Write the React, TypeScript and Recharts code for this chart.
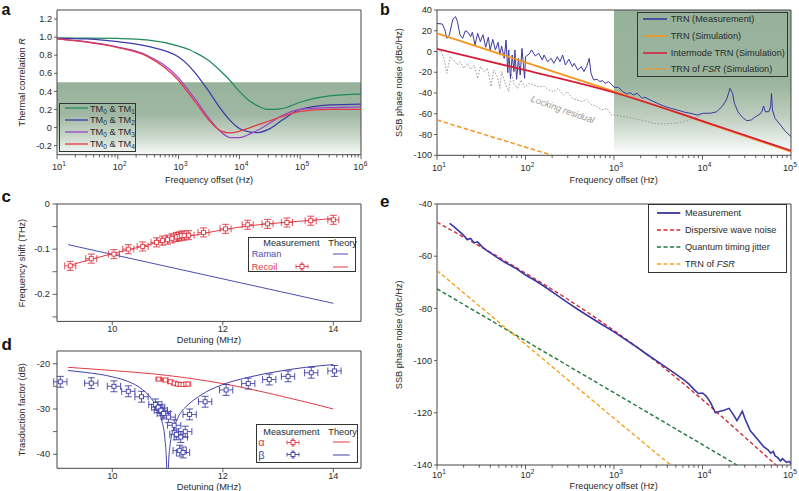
import React from 'react';
import { ComposedChart, Line, Scatter, ErrorBar, XAxis, YAxis, ReferenceArea, Legend } from 'recharts';

const FONT = '"Liberation Sans", Arial, Helvetica, sans-serif';
const FS = 9.2;
const AX = '#3a3a3a';
const TX = '#2a2a2a';

// ---------------- Panel a : thermal correlation ----------------
const aFreq = [10, 30, 100, 300, 1000, 1500, 2000, 3000, 5000, 7000, 10000, 15000, 20000, 30000, 50000, 100000, 300000, 1000000];
const aTM1 = [0.99, 0.99, 0.985, 0.97, 0.9, 0.86, 0.82, 0.75, 0.62, 0.52, 0.4, 0.29, 0.24, 0.2, 0.21, 0.28, 0.35, 0.37];
const aTM2 = [0.99, 0.98, 0.95, 0.9, 0.78, 0.68, 0.58, 0.42, 0.2, 0.08, -0.01, -0.05, -0.055, -0.02, 0.08, 0.2, 0.25, 0.26];
const aTM3 = [0.98, 0.95, 0.89, 0.8, 0.55, 0.4, 0.29, 0.12, -0.05, -0.11, -0.11, -0.07, -0.03, 0.04, 0.13, 0.2, 0.22, 0.23];
const aTM4 = [0.98, 0.945, 0.885, 0.79, 0.52, 0.37, 0.26, 0.1, -0.04, -0.06, -0.04, 0.0, 0.03, 0.07, 0.12, 0.18, 0.2, 0.2];
const aModes = ['1', '2', '3', '4'];
const aColors = ['#1f8a5b', '#3b3aa8', '#9a45c8', '#e23a48'];
const aXMajors = [10, 100, 1000, 10000, 100000, 1000000];
const aXExps = ['1', '2', '3', '4', '5', '6'];
const aYTicks = [-0.2, 0, 0.2, 0.4, 0.6, 0.8, 1.0, 1.2];
const aYLabels = ['-0.2', '0', '0.2', '0.4', '0.6', '0.8', '1.0', '1.2'];

// ---------------- Panel b : TRN ----------------
const bMeas = [
  [10, 27], [11.5, 26.5], [12.3, 20.7], [12.9, 12.7], [13.8, 16], [15.1, 31], [16.2, 33.6], [17, 28.8], [18.2, 16], [19.5, 12.7],
  [20.9, 20], [22.4, 18.5], [24, 14.3], [25.1, 18.5], [26.9, 6.3], [28.8, 17.5], [30.9, 9.5], [33.1, 16.2], [35.5, 4], [38, 13.7],
  [39.8, 1.5], [42.7, 11.7], [45.7, 1.5], [49, 8.8], [51.3, -3.4], [53.7, 5.3], [57.5, -6.6], [60.3, 11], [63.1, -20.4], [64.6, 1.5],
  [67.6, -25.8], [70.8, -3.4], [74.1, -19.4], [75.9, 1.5], [79.4, -26.8], [83.2, -6.6], [87.1, -22.6], [91.2, 3], [97.7, -25.8], [100, -5],
  [110, -2.4], [117, 1.5], [129, -4.3], [141, -1.7], [155, -8.2], [162, -3.4], [178, -9.8], [195, -6.6], [209, -11.4], [229, -5],
  [245, -9.8], [263, -3.4], [282, -13], [309, -7.5], [339, -14.6], [355, -11.4], [389, -17.8], [427, -14.6], [457, -19.4], [490, -14.6],
  [525, -6.6], [550, -21], [589, -27.4], [646, -26.8], [692, -29], [741, -28], [794, -30.6], [871, -29], [955, -32.3], [1000, -34.5],
  [1122, -34.5], [1259, -38.7], [1413, -41], [1514, -39.6], [1660, -41.9], [1820, -40.3], [2089, -45.1], [2239, -44.1], [2570, -46.7], [3090, -49.9],
  [3631, -52.5], [4365, -54.7], [5129, -56.3], [6166, -58.3], [7244, -59.5], [8710, -61.2], [10230, -59.5], [12300, -59.5], [14450, -58], [16600, -53.1],
  [18620, -46.7], [19950, -38.7], [20420, -35.5], [21880, -40.3], [22910, -49.9], [25120, -58], [28180, -63.4], [31620, -66.6], [35480, -66], [39810, -62.8],
  [44670, -60.2], [46770, -58], [48980, -52.5], [51290, -58], [56230, -58], [58880, -53.1], [60260, -40.3], [61660, -56.3], [66070, -64.4], [75860, -70.8],
  [87100, -77.2], [100000, -82],
];
const bResidual = [
  [10, -2], [11, 1.5], [12, -6.6], [12.9, -21], [14.1, -5], [15.5, -8.2], [17, -13], [18.2, -9.8], [20, -16.2], [21.9, -11.4],
  [24, -17.2], [26.3, -13], [28.8, -25.8], [30.9, -14.6], [33.9, -19.4], [37.2, -16.2], [40.7, -33.9], [43.7, -17.8], [47.9, -24.2], [51.3, -35.5],
  [53.7, -19.4], [58.9, -30.6], [64.6, -38.7], [69.2, -21], [74.1, -30.6], [81.3, -35.5], [89.1, -27.4], [97.7, -34.5], [110, -30.6], [123, -32.3],
  [141, -33.9], [162, -33.2], [182, -37.1], [209, -38.7], [234, -35.5], [269, -41.9], [295, -38.7], [339, -45.1], [380, -46.7], [437, -48.3],
  [490, -46.1], [562, -51.5], [646, -53.1], [724, -56.3], [832, -54.7], [933, -61.2], [1000, -61.2], [1288, -62.8], [1660, -64.4], [2188, -66.6],
  [2818, -69.2], [3631, -69.8], [4677, -69.2], [6166, -67.6], [7943, -64.4], [9772, -61.2],
];
const bTrnSim = [[10, 17.5], [100, -10.5], [1000, -38.5], [10000, -67.5], [100000, -96.5]];
const bInterSim = [[10, 2.5], [100, -18], [1000, -39.5], [10000, -67], [100000, -95.5]];
const bFsr = [[10, -66], [200, -100]];
const bXMajors = [10, 100, 1000, 10000, 100000];
const bXExps = ['1', '2', '3', '4', '5'];
const bYTicks = [-100, -80, -60, -40, -20, 0, 20, 40];
const bYLabels = ['-100', '-80', '-60', '-40', '-20', '0', '20', '40'];

// ---------------- Panel c : frequency shift ----------------
const cRecoilMeas = [
  [9.24, -0.137], [9.62, -0.121], [10.03, -0.111], [10.29, -0.1], [10.55, -0.094], [10.8, -0.085], [10.91, -0.081], [11.0, -0.079],
  [11.08, -0.076], [11.16, -0.073], [11.21, -0.072], [11.25, -0.07], [11.3, -0.07], [11.38, -0.069], [11.65, -0.063], [12.05, -0.055],
  [12.45, -0.046], [12.81, -0.044], [13.16, -0.041], [13.59, -0.037], [14.0, -0.035],
];
const cRecoilErrX = 0.1;
const cRecoilErrY = 0.01;
const cRecoilTheory = [[9.2, -0.137], [9.6, -0.123], [10, -0.11], [10.5, -0.095], [11, -0.08], [11.5, -0.069], [12, -0.057], [12.5, -0.048], [13, -0.042], [13.5, -0.037], [14, -0.032]];
const cRamanTheory = [[9.2, -0.09], [14, -0.22]];
const cYTicks = [-0.25, -0.2, -0.15, -0.1, -0.05, 0];
const cYLabels = ['', '-0.2', '', '-0.1', '', '0'];
const cdXTicks = [10, 12, 14];
const cdXLabels = ['10', '12', '14'];

// ---------------- Panel d : transduction factor ----------------
const dBetaMeas = [
  [9.06, -24.0], [9.62, -24.3], [10.03, -25.0], [10.29, -26.1], [10.53, -27.3], [10.78, -29.0], [10.83, -29.6], [10.88, -30.3],
  [10.93, -31.0], [11.02, -31.8], [11.12, -33.6], [11.16, -35.6], [11.24, -36.2], [11.22, -39.2], [11.28, -39.6], [11.32, -35.0],
  [11.4, -31.2], [11.68, -28.4], [12.06, -25.8], [12.46, -24.4], [12.84, -23.5], [13.18, -22.8], [13.6, -22.0], [14.02, -21.6],
];
const dBetaErrX = 0.12;
const dBetaErrY = 1.2;
const dAlphaMeas = [[10.84, -23.4], [10.96, -23.6], [11.05, -24.0], [11.12, -24.3], [11.18, -24.5], [11.23, -24.6], [11.28, -24.6], [11.33, -24.5], [11.37, -24.5]];
const dAlphaErrX = 0.05;
const dAlphaErrY = 0.35;
const dAlphaTheory = [[9.2, -20.8], [10, -21.5], [11, -22.6], [12, -24.4], [13, -27.0], [14, -30.0]];
const dBetaTheory = [
  [9.2, -21.5], [9.5, -21.9], [10, -22.9], [10.3, -24.0], [10.5, -25.3], [10.7, -27.6], [10.8, -29.5], [10.9, -32.8], [10.95, -36.3],
  [10.985, -43], [11.0, -60], [11.015, -43], [11.05, -37.6], [11.12, -34], [11.2, -31.6], [11.35, -29.3], [11.5, -27.8], [11.75, -25.9],
  [12, -24.6], [12.5, -22.9], [13, -21.7], [13.5, -20.8], [14, -20.2],
];
const dYTicks = [-40, -35, -30, -25, -20];
const dYLabels = ['-40', '', '-30', '', '-20'];

// ---------------- Panel e : phase noise ----------------
const eMeas = [
  [13.9, -47.4], [15.5, -48.7], [17.6, -50.3], [20, -52], [21.9, -53.6], [24, -53.2], [26.3, -54.9], [28.8, -54.5], [32.4, -56.4], [36.7, -57.9],
  [43.7, -59.6], [52, -61.3], [61.7, -62.8], [76.7, -64.5], [100, -67.2], [130, -69.4], [170, -72.0], [220, -74.6], [300, -77.8], [400, -80.6],
  [550, -83.6], [700, -85.8], [1000, -89.0], [1300, -91.6], [1700, -94.2], [2200, -96.9], [3000, -100.0], [4000, -102.9], [5000, -105.2], [6000, -107.1],
  [7000, -108.9], [8000, -111.0], [9000, -112.6], [10000, -112.4], [11000, -113.6], [12300, -116.0], [14000, -120.0], [15800, -119.4], [17500, -119.0], [20000, -118.3],
  [22400, -120.8], [24500, -123.0], [26500, -121.0], [28200, -119.4], [30200, -122.3], [34700, -126.9], [41700, -130.0], [49000, -133.0], [55000, -134.2], [58900, -135.5],
  [63000, -134.8], [66100, -136.5], [71000, -137.2], [75900, -138.5], [80000, -137.6], [89100, -139.0], [95000, -138.6], [100000, -139.5],
];
const eDispersive = [[10, -47], [31.6, -56.5], [100, -66.5], [316, -77], [1000, -88.5], [3162, -101], [10000, -115], [31623, -130], [70800, -140.6]];
const eQuantum = [[10, -72.5], [100, -92.4], [1000, -112.3], [10000, -132.2], [24500, -140]];
const eTrnFsr = [[10, -65.5], [100, -93.8], [1000, -122.1], [4365, -140]];
const eXMajors = [10, 100, 1000, 10000, 100000];
const eXExps = ['1', '2', '3', '4', '5'];
const eYTicks = [-140, -120, -100, -80, -60, -40];
const eYLabels = ['-140', '-120', '-100', '-80', '-60', '-40'];

// ---------------- helpers ----------------
const toXY = (pairs: number[][]) => pairs.map(([x, y]) => ({ x, y }));
const toErr = (pairs: number[][], ex: number, ey: number) => pairs.map(([x, y]) => ({ x, y, ex, ey }));
const aData = [aTM1, aTM2, aTM3, aTM4].map((s) => aFreq.map((f, i) => ({ x: f, y: s[i] })));

const withMinors = (majors: number[]) => {
  const out: number[] = [];
  majors.forEach((d, i) => {
    out.push(d);
    if (i < majors.length - 1) for (let k = 2; k <= 9; k++) out.push(d * k);
  });
  return out;
};

const ML = 46, MT = 4, MR = 14, MB = 34;
type R = { x0: number; y0: number; x1: number; y1: number };
const RA: R = { x0: 57, y0: 10, x1: 361, y1: 154.7 };
const RB: R = { x0: 436.7, y0: 10, x1: 790.7, y1: 155.3 };
const RC: R = { x0: 57, y0: 204.3, x1: 361, y1: 321.7 };
const RD: R = { x0: 57, y0: 351, x1: 361, y1: 468.3 };
const RE: R = { x0: 436.7, y0: 204.3, x1: 790.7, y1: 465.3 };
const box = (r: R) => ({ left: r.x0 - ML, top: r.y0 - MT, width: r.x1 - r.x0 + ML + MR, height: r.y1 - r.y0 + MT + MB });
const lpos = (r: R, x: number, y: number, w: number, h: number) => ({ left: x - (r.x0 - ML), top: y - (r.y0 - MT), width: w, height: h });

const axisCommon: any = { type: 'number', tickSize: 0, tickMargin: 0, tickLine: false, axisLine: false, interval: 0, allowDataOverflow: true };

const LogTick = (p: any) => {
  const { x, y, payload, majors, exps, dy, lastShift = 0 } = p;
  const i = majors.indexOf(payload.value);
  const major = i >= 0;
  const sx = i === majors.length - 1 ? x + lastShift : x;
  return (
    <g>
      <line x1={x} x2={x} y1={y} y2={y + (major ? 4.5 : 2.8)} stroke={AX} strokeWidth={0.8} />
      {major ? (
        <g fontFamily={FONT} fill={TX}>
          <text x={sx} y={y + dy} textAnchor="middle" fontSize={FS}>10</text>
          <text x={sx + 5.3} y={y + dy - 4.3} textAnchor="start" fontSize={6.6}>{exps[i]}</text>
        </g>
      ) : null}
    </g>
  );
};

const LinXTick = (p: any) => {
  const { x, y, payload, vals, labels, dy } = p;
  const i = vals.indexOf(payload.value);
  return (
    <g>
      <line x1={x} x2={x} y1={y} y2={y + 4} stroke={AX} strokeWidth={0.8} />
      <text x={x} y={y + dy} textAnchor="middle" fontSize={FS} fontFamily={FONT} fill={TX}>{i >= 0 ? labels[i] : ''}</text>
    </g>
  );
};

const YTick = (p: any) => {
  const { x, y, payload, vals, labels, len, gap } = p;
  const i = vals.indexOf(payload.value);
  const s = i >= 0 ? labels[i] : '';
  return (
    <g>
      <line x1={x - len} x2={x} y1={y} y2={y} stroke={AX} strokeWidth={0.8} />
      {s ? (
        <text x={x - gap} y={y} dy="0.34em" textAnchor="end" fontSize={FS} fontFamily={FONT} fill={TX}>{s}</text>
      ) : null}
    </g>
  );
};

// legend building blocks
const Seg = ({ x0, x1, y, color, w = 1.5, dash }: any) => (
  <svg style={{ position: 'absolute', left: x0, top: y - 3, overflow: 'visible' }} width={x1 - x0} height={6}>
    <line x1={0} x2={x1 - x0} y1={3} y2={3} stroke={color} strokeWidth={w} strokeDasharray={dash} />
  </svg>
);
const Lbl = ({ x, y, color = TX, size = FS, children }: any) => (
  <div style={{ position: 'absolute', left: x, top: y - 7, height: 14, lineHeight: '14px', fontSize: size, color, whiteSpace: 'nowrap', fontFamily: FONT }}>
    {children}
  </div>
);
const Sub = ({ children }: any) => <span style={{ fontSize: 6.5, position: 'relative', top: 2.2 }}>{children}</span>;
const ErrSym = ({ x, y, color, hw = 6, hh = 3.5 }: any) => (
  <svg style={{ position: 'absolute', left: x - hw - 1, top: y - hh - 1, overflow: 'visible' }} width={2 * hw + 2} height={2 * hh + 2}>
    <g transform={`translate(${hw + 1},${hh + 1})`} stroke={color} strokeWidth={0.9} fill="none">
      <line x1={-hw} x2={hw} y1={0} y2={0} />
      <line x1={-hw} x2={-hw} y1={-2} y2={2} />
      <line x1={hw} x2={hw} y1={-2} y2={2} />
      <line x1={0} x2={0} y1={-hh} y2={hh} />
      <line x1={-1.5} x2={1.5} y1={-hh} y2={-hh} />
      <line x1={-1.5} x2={1.5} y1={hh} y2={hh} />
      <rect x={-2} y={-2} width={4} height={4} fill="#fff" />
    </g>
  </svg>
);
const legendBox = (w: number, h: number, children: any) => (
  <div style={{ position: 'relative', width: w, height: h, border: '1px solid #333', boxSizing: 'border-box', fontFamily: FONT }}>{children}</div>
);

const LegendA = () =>
  legendBox(76.7, 49, aModes.map((m, i) => (
    <React.Fragment key={m}>
      <Seg x0={4.7} x1={27.7} y={4.8 + i * 11.7} color={aColors[i]} w={1.3} />
      <Lbl x={29.7} y={4.8 + i * 11.7}>TM<Sub>0</Sub> &amp; TM<Sub>{m}</Sub></Lbl>
    </React.Fragment>
  )));

const LegendB = () =>
  legendBox(151, 65.6, (
    <>
      <Seg x0={4.7} x1={28.7} y={6.3} color="#3b379e" w={1.6} />
      <Lbl x={32.4} y={6.3}>TRN (Measurement)</Lbl>
      <Seg x0={4.7} x1={28.7} y={23.1} color="#f7941d" w={1.6} />
      <Lbl x={32.4} y={23.1}>TRN (Simulation)</Lbl>
      <Seg x0={4.7} x1={28.7} y={39.9} color="#d3203b" w={1.6} />
      <Lbl x={32.4} y={39.9}>Intermode TRN (Simulation)</Lbl>
      <Seg x0={4.7} x1={28.7} y={56.7} color="#f7941d" w={1.5} dash="4 2.5" />
      <Lbl x={32.4} y={56.7}>TRN of <i>FSR</i> (Simulation)</Lbl>
    </>
  ));

const LegendC = () =>
  legendBox(107.7, 35, (
    <>
      <Lbl x={14} y={5.7}>Measurement</Lbl>
      <Lbl x={79} y={5.7}>Theory</Lbl>
      <Lbl x={2.4} y={16.7} color="#4b4bb4">Raman</Lbl>
      <Seg x0={83.7} x1={98.7} y={16.7} color="#4b4bb4" w={1} />
      <Lbl x={2.4} y={29} color="#e03a45">Recoil</Lbl>
      <ErrSym x={52.4} y={29} color="#e03a45" />
      <Seg x0={83.7} x1={98.7} y={29} color="#e03a45" w={1} />
    </>
  ));

const LegendD = () =>
  legendBox(102.3, 38.7, (
    <>
      <Lbl x={6.3} y={6.4}>Measurement</Lbl>
      <Lbl x={71.3} y={6.4}>Theory</Lbl>
      <Lbl x={1.3} y={17} color="#e03a45" size={11}>α</Lbl>
      <ErrSym x={36.3} y={17} color="#e03a45" />
      <Seg x0={76.3} x1={93} y={17} color="#e03a45" w={1} />
      <Lbl x={1.3} y={29.7} color="#4040a8" size={11}>β</Lbl>
      <ErrSym x={36.3} y={29.7} color="#4040a8" />
      <Seg x0={76.3} x1={93} y={29.7} color="#4040a8" w={1} />
    </>
  ));

const LegendE = () =>
  legendBox(138.4, 69, (
    <>
      <Seg x0={7.4} x1={30.7} y={7.3} color="#3a36a3" w={1.8} />
      <Lbl x={35.7} y={7.3}>Measurement</Lbl>
      <Seg x0={7.4} x1={30.7} y={24.3} color="#d42a36" w={1.4} dash="4 2.5" />
      <Lbl x={35.7} y={24.3}>Dispersive wave noise</Lbl>
      <Seg x0={7.4} x1={30.7} y={41.3} color="#1a7a3c" w={1.4} dash="4 2.5" />
      <Lbl x={35.7} y={41.3}>Quantum timing jitter</Lbl>
      <Seg x0={7.4} x1={30.7} y={58.3} color="#f7a11c" w={1.4} dash="4 2.5" />
      <Lbl x={35.7} y={58.3}>TRN of <i>FSR</i></Lbl>
    </>
  ));

const legendProps: any = { layout: 'vertical', align: 'center', verticalAlign: 'middle' };

const sq = (color: string) => (p: any) =>
  <rect x={p.cx - 2} y={p.cy - 2} width={4} height={4} fill="#fff" stroke={color} strokeWidth={0.9} />;

const lineBase: any = { dataKey: 'y', dot: false, isAnimationActive: false, activeDot: false };

function PanelA() {
  const r = RA, b = box(r);
  return (
    <div style={{ position: 'absolute', left: b.left, top: b.top }}>
      <ComposedChart width={b.width} height={b.height} margin={{ top: MT, right: MR, bottom: 0, left: 0 }}>
        <defs>
          <linearGradient id="gA" x1="0" y1="0" x2="0" y2="1">
            <stop offset="0" stopColor="#97b29a" />
            <stop offset="0.45" stopColor="#a0b8a3" />
            <stop offset="0.8" stopColor="#d2ded3" />
            <stop offset="1" stopColor="#f8faf8" />
          </linearGradient>
        </defs>
        <XAxis dataKey="x" {...axisCommon} scale="log" domain={[10, 1e6]} ticks={withMinors(aXMajors)} height={MB}
          tick={<LogTick majors={aXMajors} exps={aXExps} dy={15.8} lastShift={-2.5} />} />
        <YAxis dataKey="y" {...axisCommon} domain={[-0.3, 1.3]} ticks={aYTicks} width={ML}
          tick={<YTick vals={aYTicks} labels={aYLabels} len={3} gap={5} />} />
        <ReferenceArea x1={10} x2={1e6} y1={-0.3} y2={0.5} fill="url(#gA)" fillOpacity={1} stroke="none" />
        {aData.map((d, i) => (
          <Line key={i} {...lineBase} data={d} type="monotone" stroke={aColors[i]} strokeWidth={1.25} />
        ))}
        <ReferenceArea x1={10} x2={1e6} y1={-0.3} y2={1.3} fill="none" stroke="#444" strokeWidth={1} />
        <Legend {...legendProps} wrapperStyle={lpos(r, 59.3, 102.7, 76.7, 49)} content={() => <LegendA />} />
      </ComposedChart>
    </div>
  );
}

function PanelB() {
  const r = RB, b = box(r);
  return (
    <div style={{ position: 'absolute', left: b.left, top: b.top }}>
      <ComposedChart width={b.width} height={b.height} margin={{ top: MT, right: MR, bottom: 0, left: 0 }}>
        <defs>
          <linearGradient id="gB" x1="0" y1="0" x2="0" y2="1">
            <stop offset="0" stopColor="#97b29a" />
            <stop offset="0.5" stopColor="#9ab49d" />
            <stop offset="0.74" stopColor="#bfcfc0" />
            <stop offset="1" stopColor="#ffffff" />
          </linearGradient>
        </defs>
        <XAxis dataKey="x" {...axisCommon} scale="log" domain={[10, 1e5]} ticks={withMinors(bXMajors)} height={MB}
          tick={<LogTick majors={bXMajors} exps={bXExps} dy={15.8} lastShift={-3} />} />
        <YAxis dataKey="y" {...axisCommon} domain={[-100, 40]} ticks={bYTicks} width={ML}
          tick={<YTick vals={bYTicks} labels={bYLabels} len={3} gap={5} />} />
        <ReferenceArea x1={1000} x2={1e5} y1={-100} y2={40} fill="url(#gB)" fillOpacity={1} stroke="none" />
        <Line {...lineBase} data={toXY(bResidual)} type="linear" stroke="#9c9c9c" strokeWidth={1} strokeDasharray="1.6 1.6" />
        <Line {...lineBase} data={toXY(bMeas)} type="linear" stroke="#3b379e" strokeWidth={1} />
        <Line {...lineBase} data={toXY(bTrnSim)} type="monotone" stroke="#f7941d" strokeWidth={1.8} />
        <Line {...lineBase} data={toXY(bInterSim)} type="monotone" stroke="#d3203b" strokeWidth={1.8} />
        <Line {...lineBase} data={toXY(bFsr)} type="linear" stroke="#f7941d" strokeWidth={1.5} strokeDasharray="4.5 2.5" />
        <ReferenceArea x1={10} x2={1e5} y1={-100} y2={40} fill="none" stroke="#444" strokeWidth={1} />
        <Legend {...legendProps} wrapperStyle={lpos(r, 637.3, 11.7, 151, 65.6)} content={() => <LegendB />} />
      </ComposedChart>
    </div>
  );
}

function PanelC() {
  const r = RC, b = box(r);
  const red = '#e03a45';
  return (
    <div style={{ position: 'absolute', left: b.left, top: b.top }}>
      <ComposedChart width={b.width} height={b.height} margin={{ top: MT, right: MR, bottom: 0, left: 0 }}>
        <XAxis dataKey="x" {...axisCommon} domain={[9, 14.5]} ticks={cdXTicks} height={MB}
          tick={<LinXTick vals={cdXTicks} labels={cdXLabels} dy={11} />} />
        <YAxis dataKey="y" {...axisCommon} domain={[-0.26, 0]} ticks={cYTicks} width={ML}
          tick={<YTick vals={cYTicks} labels={cYLabels} len={4.5} gap={7} />} />
        <Line {...lineBase} data={toXY(cRamanTheory)} type="linear" stroke="#4b4bb4" strokeWidth={1} />
        <Line {...lineBase} data={toXY(cRecoilTheory)} type="monotone" stroke={red} strokeWidth={1} />
        <Scatter data={toErr(cRecoilMeas, cRecoilErrX, cRecoilErrY)} dataKey="y" shape={sq(red)} isAnimationActive={false}>
          <ErrorBar dataKey="ex" direction="x" width={3.5} stroke={red} strokeWidth={0.9} />
          <ErrorBar dataKey="ey" direction="y" width={3.5} stroke={red} strokeWidth={0.9} />
        </Scatter>
        <ReferenceArea x1={9} x2={14.5} y1={-0.26} y2={0} fill="none" stroke="#444" strokeWidth={1} />
        <Legend {...legendProps} wrapperStyle={lpos(r, 248.3, 236.7, 107.7, 35)} content={() => <LegendC />} />
      </ComposedChart>
    </div>
  );
}

function PanelD() {
  const r = RD, b = box(r);
  const red = '#e03a45';
  const blue = '#4040a8';
  return (
    <div style={{ position: 'absolute', left: b.left, top: b.top }}>
      <ComposedChart width={b.width} height={b.height} margin={{ top: MT, right: MR, bottom: 0, left: 0 }}>
        <XAxis dataKey="x" {...axisCommon} domain={[9, 14.5]} ticks={cdXTicks} height={MB}
          tick={<LinXTick vals={cdXTicks} labels={cdXLabels} dy={11} />} />
        <YAxis dataKey="y" {...axisCommon} domain={[-43.1, -17.2]} ticks={dYTicks} width={ML}
          tick={<YTick vals={dYTicks} labels={dYLabels} len={4} gap={7} />} />
        <Line {...lineBase} data={toXY(dAlphaTheory)} type="monotone" stroke={red} strokeWidth={1} />
        <Line {...lineBase} data={toXY(dBetaTheory)} type="monotone" stroke={blue} strokeWidth={1} />
        <Scatter data={toErr(dBetaMeas, dBetaErrX, dBetaErrY)} dataKey="y" shape={sq(blue)} isAnimationActive={false}>
          <ErrorBar dataKey="ex" direction="x" width={3.5} stroke={blue} strokeWidth={0.9} />
          <ErrorBar dataKey="ey" direction="y" width={3.5} stroke={blue} strokeWidth={0.9} />
        </Scatter>
        <Scatter data={toErr(dAlphaMeas, dAlphaErrX, dAlphaErrY)} dataKey="y" shape={sq(red)} isAnimationActive={false}>
          <ErrorBar dataKey="ex" direction="x" width={2.5} stroke={red} strokeWidth={0.9} />
          <ErrorBar dataKey="ey" direction="y" width={2.5} stroke={red} strokeWidth={0.9} />
        </Scatter>
        <ReferenceArea x1={9} x2={14.5} y1={-43.1} y2={-17.2} fill="none" stroke="#444" strokeWidth={1} />
        <Legend {...legendProps} wrapperStyle={lpos(r, 256, 424.3, 102.3, 38.7)} content={() => <LegendD />} />
      </ComposedChart>
    </div>
  );
}

function PanelE() {
  const r = RE, b = box(r);
  return (
    <div style={{ position: 'absolute', left: b.left, top: b.top }}>
      <ComposedChart width={b.width} height={b.height} margin={{ top: MT, right: MR, bottom: 0, left: 0 }}>
        <XAxis dataKey="x" {...axisCommon} scale="log" domain={[10, 1e5]} ticks={withMinors(eXMajors)} height={MB}
          tick={<LogTick majors={eXMajors} exps={eXExps} dy={13.4} lastShift={-3} />} />
        <YAxis dataKey="y" {...axisCommon} domain={[-140, -40]} ticks={eYTicks} width={ML}
          tick={<YTick vals={eYTicks} labels={eYLabels} len={3} gap={5} />} />
        <Line {...lineBase} data={toXY(eDispersive)} type="monotone" stroke="#d42a36" strokeWidth={1.4} strokeDasharray="4 2.5" />
        <Line {...lineBase} data={toXY(eQuantum)} type="linear" stroke="#1a7a3c" strokeWidth={1.4} strokeDasharray="4 2.5" />
        <Line {...lineBase} data={toXY(eTrnFsr)} type="linear" stroke="#f7a11c" strokeWidth={1.4} strokeDasharray="4 2.5" />
        <Line {...lineBase} data={toXY(eMeas)} type="linear" stroke="#3a36a3" strokeWidth={1.6} />
        <ReferenceArea x1={10} x2={1e5} y1={-140} y2={-40} fill="none" stroke="#444" strokeWidth={1} />
        <Legend {...legendProps} wrapperStyle={lpos(r, 648.3, 204.3, 138.4, 69)} content={() => <LegendE />} />
      </ComposedChart>
    </div>
  );
}

const yTitles = [
  { x: 21.7, y: 82.3, t: 'Thermal correlation ', it: 'R' },
  { x: 399, y: 82.6, t: 'SSB phase noise (dBc/Hz)', it: '' },
  { x: 21.7, y: 263, t: 'Frequency shift (THz)', it: '' },
  { x: 21.7, y: 409.7, t: 'Trasduction factor (dB)', it: '' },
  { x: 399, y: 334.8, t: 'SSB phase noise (dBc/Hz)', it: '' },
];
const xTitles = [
  { x: 209, y: 182.5, t: 'Frequency offset (Hz)' },
  { x: 613.7, y: 183, t: 'Frequency offset (Hz)' },
  { x: 209, y: 343, t: 'Detuning (MHz)' },
  { x: 209, y: 489.5, t: 'Detuning (MHz)' },
  { x: 613.7, y: 489, t: 'Frequency offset (Hz)' },
];
const panelLetters = [
  { x: 1.5, y: 14.5, t: 'a', s: 16 },
  { x: 380, y: 14.5, t: 'b', s: 16 },
  { x: 1.5, y: 202, t: 'c', s: 17 },
  { x: 1.5, y: 350, t: 'd', s: 17 },
  { x: 380, y: 207, t: 'e', s: 17 },
];

export default function App() {
  return (
    <div style={{ position: 'absolute', left: 0, top: 0, width: 799, height: 491, background: '#fff', overflow: 'hidden', fontFamily: FONT }}>
      <PanelA />
      <PanelB />
      <PanelC />
      <PanelD />
      <PanelE />
      <svg style={{ position: 'absolute', left: 0, top: 0, pointerEvents: 'none' }} width={799} height={491} fontFamily={FONT}>
        {yTitles.map((t, i) => (
          <text key={'y' + i} transform={`translate(${t.x},${t.y}) rotate(-90)`} textAnchor="middle" dy="0.35em" fontSize={FS} fill={TX}>
            {t.t}
            {t.it ? <tspan fontStyle="italic">{t.it}</tspan> : null}
          </text>
        ))}
        {xTitles.map((t, i) => (
          <text key={'x' + i} x={t.x} y={t.y} textAnchor="middle" fontSize={FS} fill={TX}>{t.t}</text>
        ))}
        {panelLetters.map((t, i) => (
          <text key={'l' + i} x={t.x} y={t.y} fontSize={t.s} fontWeight="bold" fill="#111">{t.t}</text>
        ))}
        <text transform="translate(562.7,109.3) rotate(19.5)" textAnchor="middle" dy="0.35em" fontSize={FS} fontStyle="italic" fill="#999">
          Locking residual
        </text>
      </svg>
    </div>
  );
}
